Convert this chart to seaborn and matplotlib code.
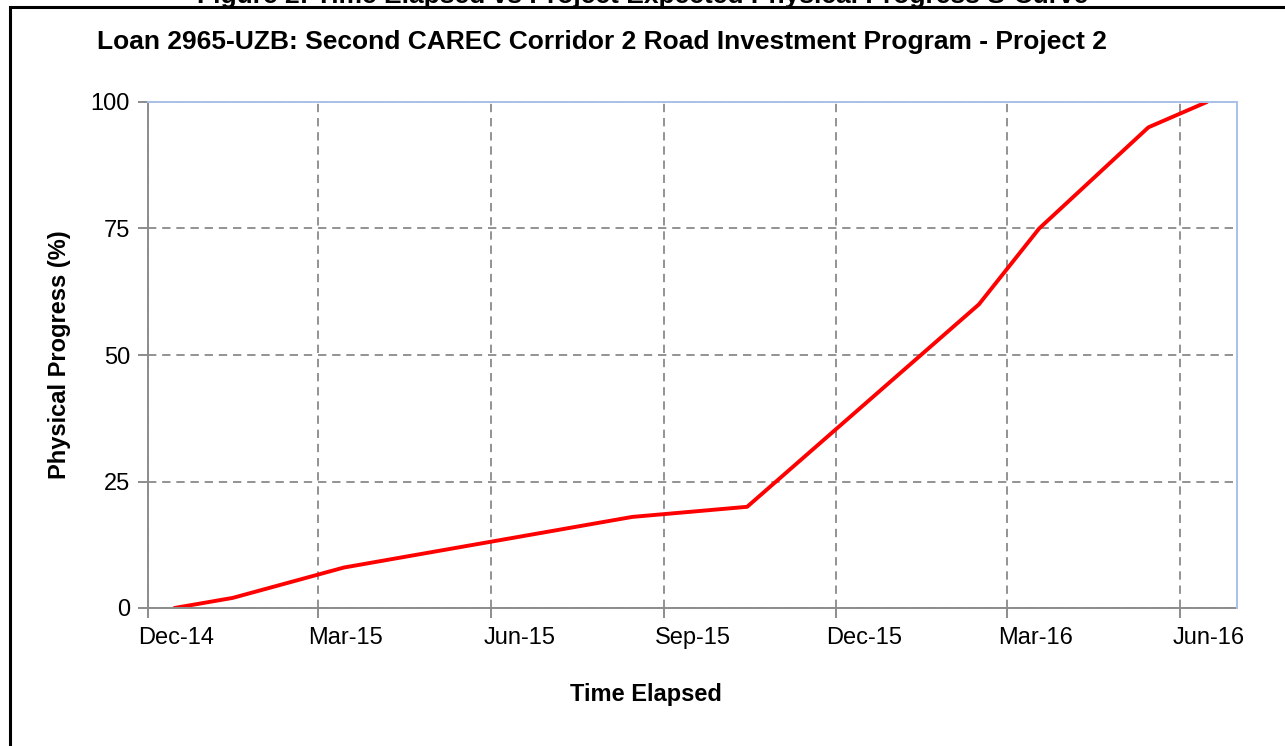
import matplotlib
matplotlib.use("Agg")
import matplotlib.pyplot as plt
from matplotlib.patches import Rectangle
import seaborn as sns
import pandas as pd

# Data
dates = ["2014-12-15", "2015-01-15", "2015-03-15", "2015-08-15", "2015-10-15",
         "2016-02-15", "2016-03-18", "2016-05-15", "2016-06-15"]
progress = [0, 2, 8, 18, 20, 60, 75, 95, 100]
tick_dates = ["2014-12-01", "2015-03-01", "2015-06-01", "2015-09-01",
              "2015-12-01", "2016-03-01", "2016-06-01"]
label_dates = ["2014-12-16", "2015-03-16", "2015-06-16", "2015-09-16",
               "2015-12-16", "2016-03-16", "2016-06-16"]
tick_labels = ["Dec-14", "Mar-15", "Jun-15", "Sep-15", "Dec-15", "Mar-16", "Jun-16"]
y_ticks = [0, 25, 50, 75, 100]

title = "Loan 2965-UZB: Second CAREC Corridor 2 Road Investment Program - Project 2"
fig_caption = "Figure 2: Time Elapsed vs Project Expected Physical Progress S-Curve"

sns.set_theme(style="white")
plt.rcParams['font.family'] = ['Liberation Sans', 'DejaVu Sans']
plt.rcParams['text.color'] = 'black'
plt.rcParams['axes.labelcolor'] = 'black'

df = pd.DataFrame({"date": pd.to_datetime(dates), "progress": progress})

fig = plt.figure(figsize=(12.85, 7.46), dpi=100)
ax = fig.add_axes([148/1285, 1-608/746, (1237-148)/1285, (608-102)/746])

sns.lineplot(data=df, x="date", y="progress", ax=ax, color="#ff0000", linewidth=2.8)

ax.set_xlim(pd.Timestamp("2014-12-01"), pd.Timestamp("2016-07-01"))
ax.set_ylim(0, 100)
ax.set_xticks(pd.to_datetime(tick_dates))
ax.set_xticklabels([])
ax.set_xticks(pd.to_datetime(label_dates), minor=True)
ax.set_xticklabels(tick_labels, minor=True)
ax.set_yticks(y_ticks)

ax.grid(True, which="major", color="#808080", linestyle=(0, (5, 3.5)), linewidth=1.2)
ax.set_axisbelow(True)

for s in ["left", "bottom"]:
    ax.spines[s].set_color("#8c8c8c")
    ax.spines[s].set_linewidth(1.4)
for s in ["top", "right"]:
    ax.spines[s].set_color("#a9c0e8")
    ax.spines[s].set_linewidth(1.4)
    ax.spines[s].set_zorder(3)

ax.tick_params(axis="both", which="major", direction="out", length=7, width=1.4,
               color="#8c8c8c", labelsize=17, labelcolor="black")
ax.tick_params(axis="x", which="major", bottom=True)
ax.tick_params(axis="x", which="minor", bottom=True, length=0, labelsize=17,
               labelcolor="black", pad=14)
ax.tick_params(axis="y", left=True, pad=6)

ax.set_xlabel("Time Elapsed", fontsize=17, fontweight="bold")
ax.set_ylabel("Physical Progress (%)", fontsize=17, fontweight="bold")
ax.xaxis.set_label_coords((646-148)/1089, (608-694)/506)
ax.yaxis.set_label_coords((60-148)/1089, (608-355)/506)
ax.xaxis.label.set_va("center")
ax.yaxis.label.set_va("center")

fig.text(97/1285, 1-42/746, title, fontsize=19, fontweight="bold", va="center", ha="left")
fig.text(0.5, 1-3/746, fig_caption, fontsize=19, fontweight="bold", va="baseline", ha="center")

# outer black frame
fig.patches.append(Rectangle((10/1285, -0.2), 1.2, 1-7/746+0.2, transform=fig.transFigure,
                             fill=False, edgecolor="black", linewidth=2.2, clip_on=False))

fig.savefig("out.png", dpi=100)
